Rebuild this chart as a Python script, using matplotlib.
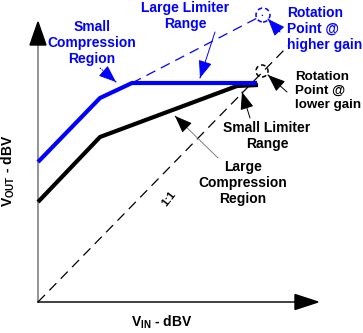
import matplotlib
matplotlib.use("Agg")
import matplotlib.pyplot as plt
from matplotlib.patches import Circle, Polygon

plt.rcParams['font.family'] = ['Liberation Sans', 'DejaVu Sans']
plt.rcParams['mathtext.fontset'] = 'custom'
plt.rcParams['mathtext.rm'] = 'Liberation Sans:bold'
plt.rcParams['mathtext.bf'] = 'Liberation Sans:bold'

BLUE = '#0000ff'

# transfer curves (V_IN, V_OUT), arbitrary dBV units
higher_vin = [0, 62, 94, 219]
higher_vout = [140, 204, 219, 219]
lower_vin = [0, 62, 199, 220]
lower_vout = [100, 165, 216, 217]

# 1:1 line and rotation points
unity_vin = [0, 250]
unity_vout = [0, 256]
rot_high = (225, 287)
rot_low = (224, 231)
axis_len = 280

fig = plt.figure(figsize=(3.63, 3.33), dpi=100)
ax = fig.add_axes([0, 0, 1, 1])
ax.set_xlim(-38, 325)
ax.set_ylim(-31, 302)
ax.axis('off')

# axes with arrowheads
ax.plot([0, 0], [0, axis_len - 20], color='#808080', lw=1.2, zorder=1)
ax.plot([0, axis_len - 20], [0, 0], color='#202020', lw=1.2, zorder=1)
ax.add_patch(Polygon([[-8, axis_len - 23], [8, axis_len - 23], [0, axis_len]],
                     closed=True, color='black', zorder=2))
ax.add_patch(Polygon([[axis_len - 23, -7.5], [axis_len - 23, 7.5], [axis_len, 0]],
                     closed=True, color='black', zorder=2))

# dashed reference lines
ax.plot(unity_vin, unity_vout, color='black', lw=0.9, ls=(0, (8, 5)), zorder=1)
ax.plot([higher_vin[2], rot_high[0]], [higher_vout[2], rot_high[1]],
        color=BLUE, lw=0.9, ls=(0, (8, 5)), zorder=1)

# curves
ax.plot(lower_vin, lower_vout, color='black', lw=3, solid_capstyle='butt', zorder=3)
ax.plot(higher_vin, higher_vout, color=BLUE, lw=3, solid_capstyle='butt', zorder=4)

# rotation point circles
ax.add_patch(Circle(rot_high, 7, fill=False, ec=BLUE, lw=1.1, ls=(0, (3, 2)), zorder=5))
ax.add_patch(Circle(rot_low, 6, fill=False, ec='black', lw=1.1, ls=(0, (3, 2)), zorder=5))

fs = 10
ax.text(147, 286, 'Large Limiter\nRange', color=BLUE, fontsize=fs, fontweight='bold',
        ha='center', va='center', multialignment='center')
ax.text(54, 259, 'Small\nCompression\nRegion', color=BLUE, fontsize=fs, fontweight='bold',
        ha='center', va='center', multialignment='center')
ax.text(249, 273, 'Rotation\nPoint @\nhigher gain', color=BLUE, fontsize=fs,
        fontweight='bold', ha='left', va='center')
ax.text(257, 211, 'Rotation\nPoint @\nlower gain', color='black', fontsize=9.6,
        fontweight='bold', ha='left', va='center')
ax.text(229, 166, 'Small Limiter\nRange', color='black', fontsize=fs, fontweight='bold',
        ha='center', va='center', multialignment='center')
ax.text(205, 119, 'Large\nCompression\nRegion', color='black', fontsize=fs,
        fontweight='bold', ha='center', va='center', multialignment='center')
ax.text(131, 103, '1:1', color='black', fontsize=8, fontweight='bold',
        ha='center', va='center', rotation=52)
ax.text(-30, 131, 'V$_{\\rm OUT}$ - dBV', color='black', fontsize=fs, fontweight='bold',
        ha='center', va='center', rotation=90)
ax.text(124, -20, 'V$_{\\rm IN}$ - dBV', color='black', fontsize=fs, fontweight='bold',
        ha='center', va='center')


def pointer(start, tip, color, head='black', ls='-'):
    ax.annotate('', xy=tip, xytext=start,
                arrowprops=dict(arrowstyle='-', color=color, lw=0.7, ls=ls,
                                shrinkA=0, shrinkB=0), zorder=6)
    ax.annotate('', xy=tip, xytext=(tip[0] + (start[0] - tip[0]) * 0.01,
                                    tip[1] + (start[1] - tip[1]) * 0.01),
                arrowprops=dict(arrowstyle='-|>,head_length=0.9,head_width=0.35',
                                color=head, lw=0.7, shrinkA=0, shrinkB=0,
                                mutation_scale=12), zorder=6)


pointer((177, 270), (162, 224), BLUE, BLUE)
pointer((62, 234), (78, 220), BLUE, BLUE, ls=':')
pointer((242, 270), (230, 283), BLUE, BLUE)
pointer((249, 210), (230, 227), 'black')
pointer((212, 184), (204, 210), 'black')
pointer((180, 144), (137, 186), '#808080')

fig.savefig('out.png', dpi=100)
